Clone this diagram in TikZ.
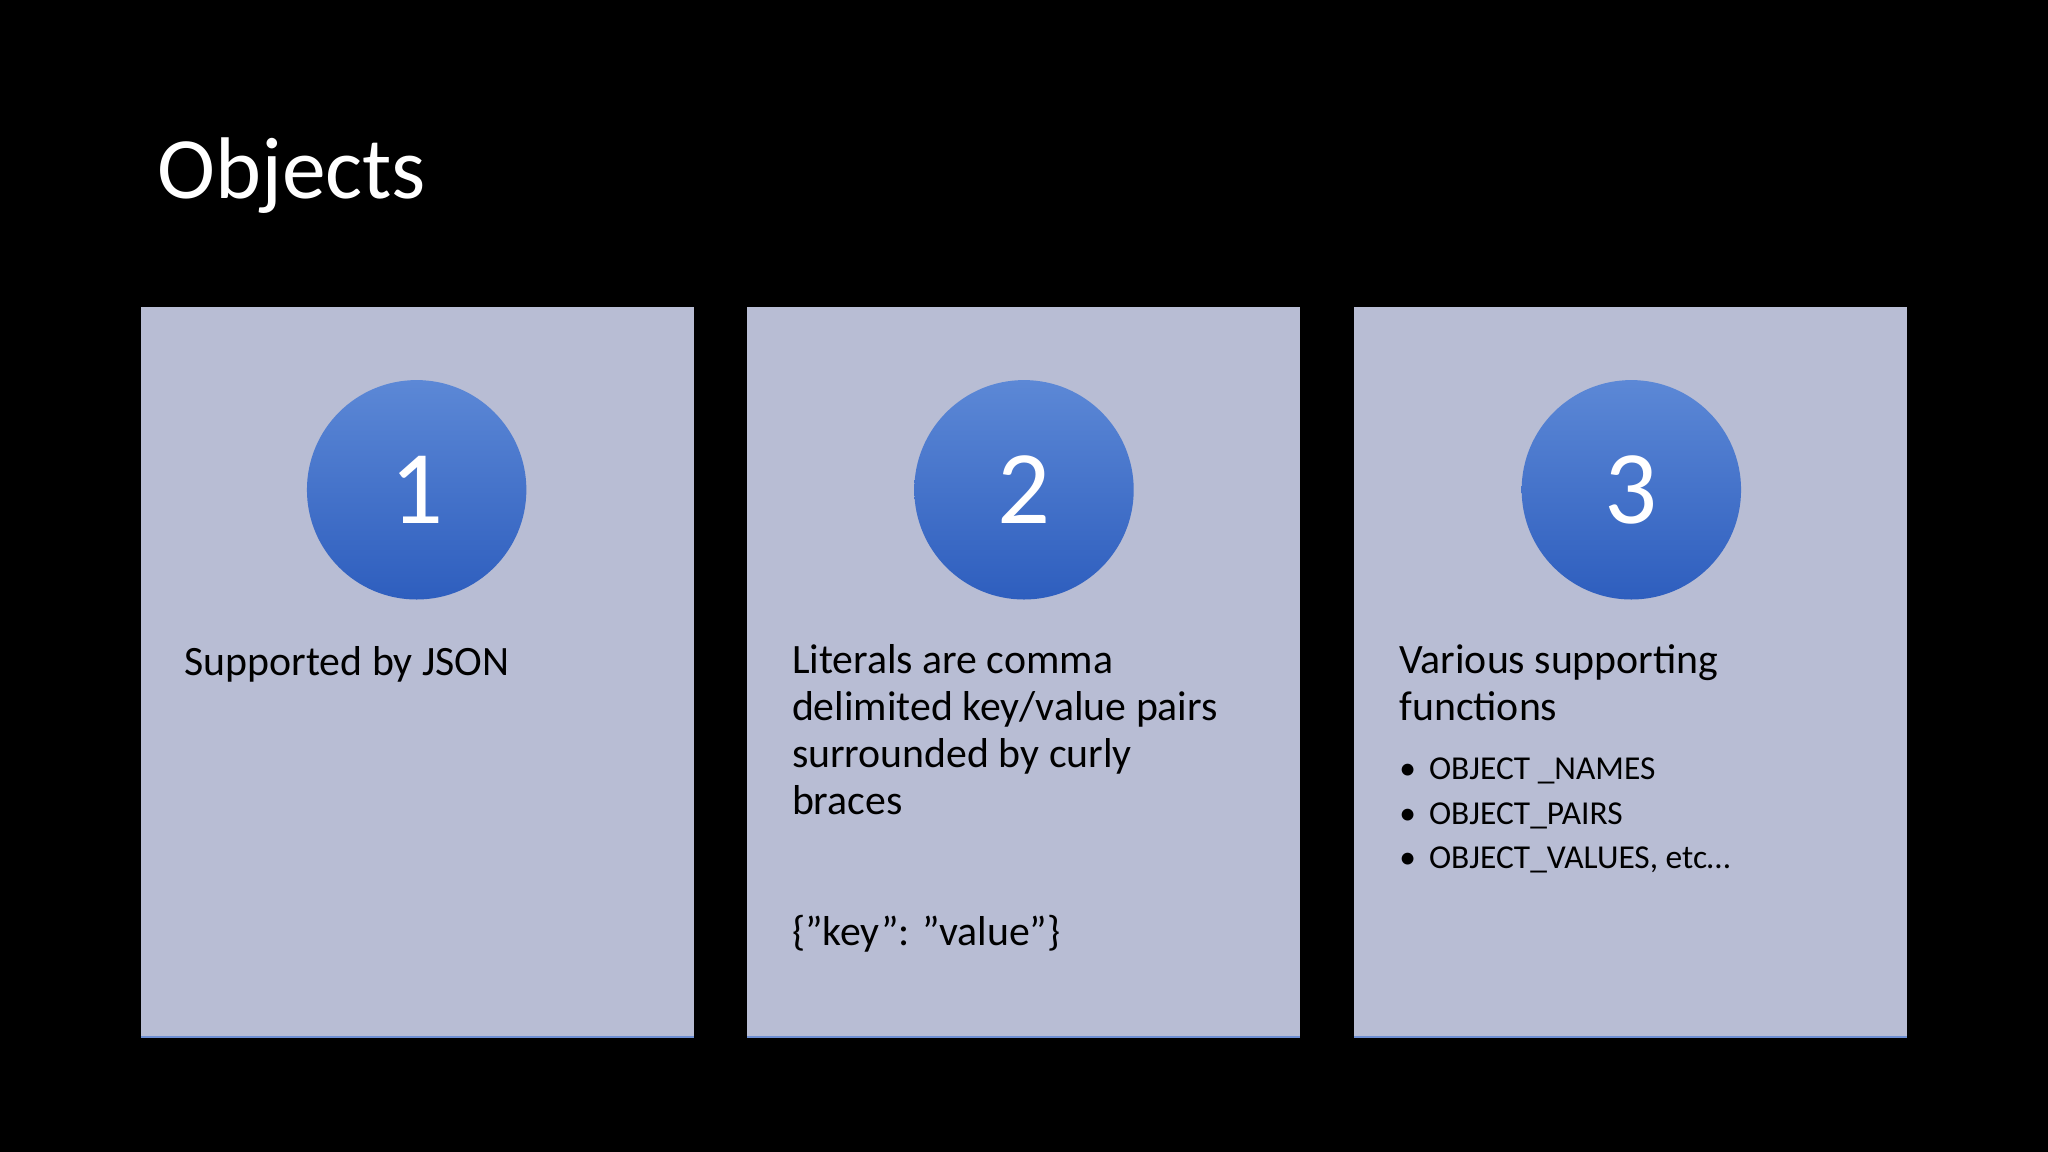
\documentclass[tikz,border=0pt]{standalone}
\usepackage{fontspec}
\setmainfont{Carlito}
\definecolor{card}{HTML}{B8BDD4}
\definecolor{ctop}{HTML}{5C88D6}
\definecolor{cbot}{HTML}{2E5EBE}
\newcommand{\qd}{\symbol{34}}
\begin{document}
\begin{tikzpicture}[x=0.5pt,y=-0.5pt,
  cardbox/.style={fill=card,draw=none},
  numcirc/.style={circle,minimum size=84pt,inner sep=0pt,top color=ctop,bottom color=cbot,text=white,font=\fontsize{40}{40}\selectfont},
  body/.style={anchor=north west,align=left,inner sep=0pt,font=\fontsize{16}{18}\selectfont},
  bul/.style={anchor=base west,inner sep=0pt,font=\fontsize{12.8}{14}\selectfont}]
\fill[black] (0,0) rectangle (1568,882);
\node[anchor=base west,inner sep=0pt,text=white,font=\fontsize{33.5}{33.5}\selectfont] (title) at (120,152) {Objects};
\foreach \x/\n in {108/a,572/b,1037/c}{
  \fill[cardbox] (\x,235) rectangle ++(423,559);
  \draw[cbot!70,line width=0.6pt] (\x,794) -- ++(423,0);
}
\node[numcirc] (c1) at (319,375) {1};
\node[numcirc] (c2) at (784,375) {2};
\node[numcirc] (c3) at (1249,375) {3};
\node[anchor=base west,inner sep=0pt,font=\fontsize{16}{18}\selectfont] (t1) at (141,517) {Supported by JSON};
\node[body] (t2) at (606,493) {Literals are comma\\delimited key/value pairs\\surrounded by curly\\braces};
\node[anchor=base west,inner sep=0pt,font=\fontsize{16}{18}\selectfont] (t2b) at (606,724) {\{\qd key\qd: \qd value\qd\}};
\node[body] (t3) at (1071,493) {Various supporting\\functions};
\node[bul] (b1) at (1071,597) {\textbullet\hspace{5pt}OBJECT \_NAMES};
\node[bul] (b2) at (1071,631) {\textbullet\hspace{5pt}OBJECT\_PAIRS};
\node[bul] (b3) at (1071,665) {\textbullet\hspace{5pt}OBJECT\_VALUES, etc…};
\end{tikzpicture}
\end{document}
